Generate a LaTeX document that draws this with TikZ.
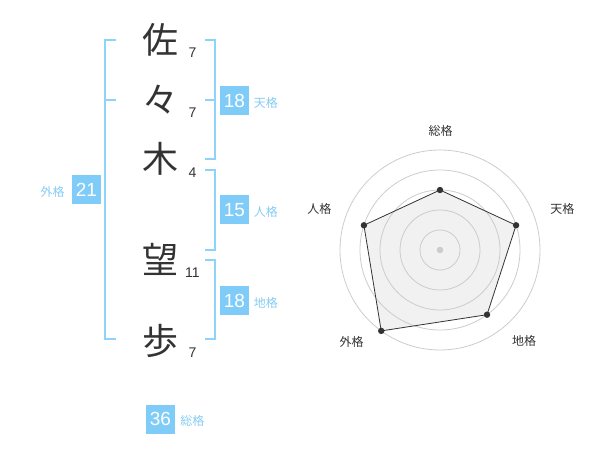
\documentclass[tikz,border=0pt]{standalone}
\usepackage{fontspec}
\setmainfont{Liberation Sans}
\newfontfamily\jpfont{Noto Sans CJK JP}
\definecolor{boxblue}{HTML}{80CCF8}
\definecolor{lineblue}{HTML}{8DD3FA}
\definecolor{textblue}{HTML}{86CCF2}
\definecolor{ink}{HTML}{333333}
\definecolor{ring}{HTML}{CCCCCC}
\definecolor{polyfill}{HTML}{F1F1F1}
\begin{document}
\begin{tikzpicture}[x=1pt,y=-1pt,
  kanji/.style={anchor=base,inner sep=0pt,text=ink,font=\jpfont\fontsize{36}{40}\selectfont},
  strokes/.style={anchor=base,inner sep=0pt,text=ink,font=\fontsize{14}{16}\selectfont},
  kakubox/.style={fill=boxblue,text=white,minimum size=29pt,inner sep=0pt,font=\fontsize{19}{21}\selectfont},
  kakuname/.style={inner sep=0pt,text=textblue,font=\jpfont\fontsize{12}{14}\selectfont},
  bracket/.style={draw=lineblue,line width=2pt},
  axisname/.style={inner sep=0pt,text=ink,font=\jpfont\fontsize{12}{14}\selectfont}]
\path[use as bounding box] (0,0) rectangle (600,470);
% name, one character per row
\node[kanji] (k1) at (160,53.7) {佐};
\node[kanji] (k2) at (160,113.7) {々};
\node[kanji] (k3) at (160,173) {木};
\node[kanji] (k4) at (160,273.7) {望};
\node[kanji] (k5) at (160,355) {歩};
\node[strokes] (s1) at (192.5,57.7) {7};
\node[strokes] (s2) at (192.5,117.7) {7};
\node[strokes] (s3) at (192.5,177.7) {4};
\node[strokes] (s4) at (192.5,277.7) {11};
\node[strokes] (s5) at (192.5,358) {7};
% brackets
\draw[bracket] (116,40) -- (105,40) -- (105,339.5) -- (116,339.5);
\draw[bracket] (105,100) -- (116,100);
\draw[bracket] (205,40) -- (214.5,40) -- (214.5,159.5) -- (205,159.5);
\draw[bracket] (205,100) -- (214.5,100);
\draw[bracket] (205,170) -- (214.5,170) -- (214.5,250) -- (205,250);
\draw[bracket] (205,260) -- (214.5,260) -- (214.5,339.5) -- (205,339.5);
% totals
\node[kakubox] (ten) at (234.5,100.5) {18};
\node[kakuname,anchor=base west] (tenlbl) at ([xshift=4.5pt]ten.base east) {天格};
\node[kakubox] (jin) at (234.5,210) {15};
\node[kakuname,anchor=base west] (jinlbl) at ([xshift=4.5pt]jin.base east) {人格};
\node[kakubox] (chi) at (234.5,300.5) {18};
\node[kakuname,anchor=base west] (chilbl) at ([xshift=4.5pt]chi.base east) {地格};
\node[kakubox] (gai) at (86.5,190) {21};
\node[kakuname,anchor=base east] (gailbl) at ([xshift=-7pt]gai.base west) {外格};
\node[kakubox] (so) at (160.5,419) {36};
\node[kakuname,anchor=base west] (solbl) at ([xshift=5pt]so.base east) {総格};
% radar chart
\begin{scope}[shift={(440,250)}]
\foreach \nm/\ang/\r in {pso/-90/60,pten/-18/80,pchi/54/80,pgai/126/100,pjin/198/80}
  \coordinate (\nm) at (\ang:\r);
\fill[polyfill] (pso) -- (pten) -- (pchi) -- (pgai) -- (pjin) -- cycle;
\foreach \r in {20,40,...,100}
  \draw[ring,line width=0.8pt] (0,0) circle (\r);
\fill[ring] (0,0) circle (3.3);
\draw[ink,line width=0.8pt] (pso) -- (pten) -- (pchi) -- (pgai) -- (pjin) -- cycle;
\foreach \nm in {pso,pten,pchi,pgai,pjin}
  \fill[ink] (\nm) circle (3.2);
\end{scope}
\node[axisname] (aso) at (440.7,130.7) {総格};
\node[axisname] (aten) at (562.3,208.7) {天格};
\node[axisname] (achi) at (524,341) {地格};
\node[axisname] (agai) at (351.7,341.7) {外格};
\node[axisname] (ajin) at (319.3,208.7) {人格};
\end{tikzpicture}
\end{document}
